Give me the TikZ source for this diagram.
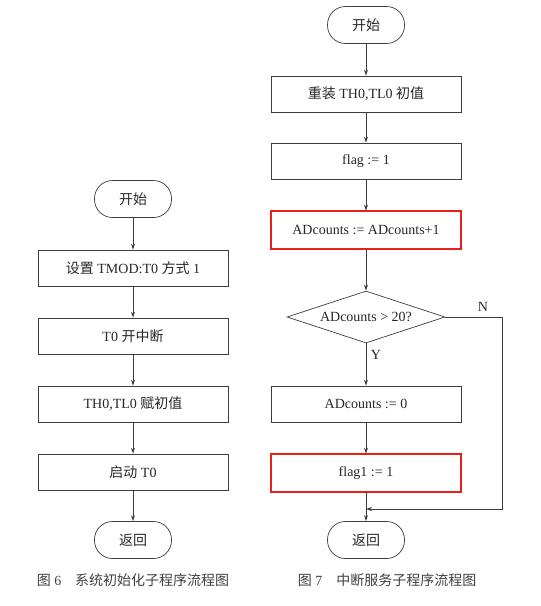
\documentclass[tikz,border=0pt]{standalone}
\usepackage{fontspec}
\setmainfont{Liberation Serif}
\newfontfamily\cjk{Noto Sans CJK SC}
\usepackage{tikz}
\usetikzlibrary{shapes.geometric, arrows.meta}
\usepackage{xcolor}
\definecolor{flowgray}{RGB}{60,60,60}
\definecolor{markred}{RGB}{235,30,30}

\begin{document}
\begin{tikzpicture}[
    x=1pt, y=-1pt,
    every node/.style={font=\fontsize{14}{16}\selectfont, text=black!85},
    term/.style={draw=flowgray, line width=0.7pt, rounded corners=18pt, minimum width=77pt, minimum height=37pt},
    proc/.style={draw=flowgray, line width=0.7pt, minimum width=190pt, minimum height=36pt},
    hilite/.style={proc, minimum height=38pt, postaction={draw=markred, line width=2.8pt, rounded corners=2pt}},
    decide/.style={draw=flowgray, line width=0.7pt, diamond, aspect=3, minimum width=158pt, minimum height=52pt, inner sep=0pt},
    arrow/.style={-{Stealth[length=6pt, width=4pt]}, line width=0.8pt, flowgray},
    caption/.style={font=\fontsize{14}{16}\selectfont, text=black!75}
]
\useasboundingbox (0,0) rectangle (541,606);

% system init
\node[term] (istart) at (133, 199) {\cjk 开始};
\node[proc] (itmod) at (133, 268) {{\cjk 设置} TMOD:T0 {\cjk 方式} 1};
\node[proc] (iint) at (133, 336) {T0 {\cjk 开中断}};
\node[proc] (ithl) at (133, 404) {TH0,TL0 {\cjk 赋初值}};
\node[proc] (irun) at (133, 472) {{\cjk 启动} T0};
\node[term] (iret) at (133, 540) {\cjk 返回};

\draw[arrow] (istart) -- (itmod);
\draw[arrow] (itmod) -- (iint);
\draw[arrow] (iint) -- (ithl);
\draw[arrow] (ithl) -- (irun);
\draw[arrow] (irun) -- (iret);

% interrupt service
\node[term] (sstart) at (366, 25) {\cjk 开始};
\node[proc] (sreload) at (366, 94) {{\cjk 重装} TH0,TL0 {\cjk 初值}};
\node[proc] (sflag) at (366, 161) {flag := 1};
\node[hilite] (sinc) at (366, 230) {ADcounts := ADcounts+1};
\node[decide] (scheck) at (366, 317) {ADcounts > 20?};
\node[proc] (sclear) at (366, 404) {ADcounts := 0};
\node[hilite] (sflagone) at (366, 473) {flag1 := 1};
\node[term] (sret) at (366, 540) {\cjk 返回};
\coordinate (ncorner) at (502, 509);
\coordinate (merge) at (366, 509);

\draw[arrow] (sstart) -- (sreload);
\draw[arrow] (sreload) -- (sflag);
\draw[arrow] (sflag) -- (sinc);
\draw[arrow] (sinc) -- (scheck);
\draw[arrow] (scheck) -- (sclear);
\draw[arrow] (sclear) -- (sflagone);
\draw[arrow] (sflagone) -- (sret);
\draw[arrow] (scheck.east) -| (ncorner) -- (merge);

% branch labels
\node (lno) at (483, 307) {N};
\node (lyes) at (376, 355) {Y};

% captions
\node[caption] (capinit) at (133, 580) {{\cjk 图} 6\quad{\cjk 系统初始化子程序流程图}};
\node[caption] (capisr) at (387, 580) {{\cjk 图} 7\quad{\cjk 中断服务子程序流程图}};
\end{tikzpicture}
\end{document}
